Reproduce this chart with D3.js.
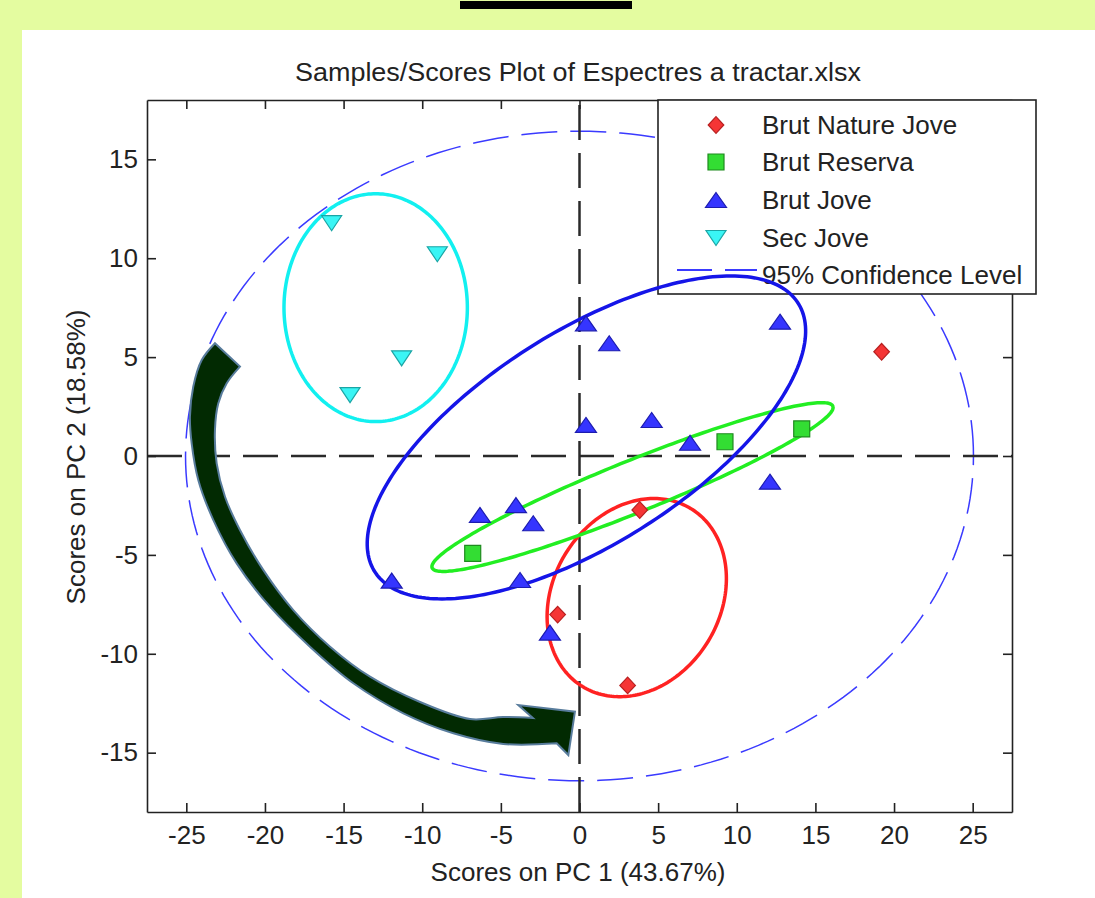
<!DOCTYPE html>
<html lang="en">
<head>
<meta charset="utf-8">
<script src="https://d3js.org/d3.v7.min.js"></script>
<style>
  body { margin: 0; background: #e4fca0; }
  text { font-family: "Liberation Sans", Arial, sans-serif; fill: #222; }
</style>
</head>
<body>
<script>
// scores on PC1 / PC2 for each class
var brutNatureJoveX = [19.21, 3.83, -1.39, 3.06];
var brutNatureJoveY = [5.27, -2.73, -8.02, -11.60];
var brutReservaX = [-6.79, 9.25, 14.13];
var brutReservaY = [-4.92, 0.72, 1.37];
var brutJoveX = [0.41, 1.89, 12.75, 0.41, 4.59, 7.03, 12.11, -6.33, -4.04, -2.94, -11.94, -3.78, -1.88];
var brutJoveY = [6.71, 5.70, 6.79, 1.57, 1.82, 0.67, -1.30, -2.98, -2.48, -3.40, -6.30, -6.27, -8.93];
var secJoveX = [-15.76, -9.04, -11.31, -14.59];
var secJoveY = [11.77, 10.20, 4.94, 3.08];

var classNames = ["Brut Nature Jove", "Brut Reserva", "Brut Jove", "Sec Jove"];

// class ellipses: centre, semi axes and tilt (degrees), in score units
var ellipseCx = [3.64, 3.37, 0.44, -12.96];
var ellipseCy = [-7.16, -1.57, 0.94, 7.50];
var ellipseA = [5.95, 13.38, 15.13, 5.83];
var ellipseB = [4.71, 1.35, 5.66, 5.76];
var ellipseAngle = [28, 17.7, 24.8, 0];

// 95% confidence ellipse
var confRx = 25.05;
var confRy = 16.42;

var xTickValues = [-25, -20, -15, -10, -5, 0, 5, 10, 15, 20, 25];
var xTickLabels = ["-25", "-20", "-15", "-10", "-5", "0", "5", "10", "15", "20", "25"];
var yTickValues = [-15, -10, -5, 0, 5, 10, 15];
var yTickLabels = ["-15", "-10", "-5", "0", "5", "10", "15"];

// hand drawn arrow, outline in score units
var arrowOuter = [[-23.18, 5.70], [-24.02, 4.85], [-24.56, 3.50], [-24.77, 1.99], [-24.66, 0.64],
  [-24.24, -1.21], [-23.28, -3.24], [-21.80, -5.43], [-19.68, -7.62], [-17.14, -9.64],
  [-14.38, -11.49], [-11.20, -13.01], [-8.02, -14.02], [-4.85, -14.56], [-1.45, -14.53]];
var arrowHead = [[-0.71, -15.12], [-0.29, -12.93], [-3.89, -12.59], [-2.96, -13.25]];
var arrowInner = [[-2.96, -13.25], [-4.85, -13.20], [-6.96, -13.30], [-10.14, -12.44], [-13.32, -11.16],
  [-15.86, -9.64], [-18.20, -7.79], [-20.11, -5.76], [-21.59, -3.74], [-22.54, -2.06],
  [-23.07, -0.37], [-23.18, 1.31], [-22.97, 2.66], [-22.43, 3.68], [-21.59, 4.52]];

var width = 1095, height = 898;
var plotLeft = 147, plotRight = 1012, plotTop = 100, plotBottom = 812;

var svg = d3.select("body").append("svg")
    .attr("width", width)
    .attr("height", height)
    .style("display", "block");

// page background
svg.append("rect").attr("width", width).attr("height", height).attr("fill", "#e4fca0");
svg.append("rect").attr("x", 22).attr("y", 30).attr("width", width - 22).attr("height", height - 30).attr("fill", "#fff");
svg.append("rect").attr("x", 460).attr("y", 1).attr("width", 172).attr("height", 8).attr("fill", "#000");

var x = d3.scaleLinear().domain([-27.5, 27.5]).range([plotLeft, plotRight]);
var y = d3.scaleLinear().domain([-18, 18]).range([plotBottom, plotTop]);

var line = d3.line().x(function(d) { return x(d[0]); }).y(function(d) { return y(d[1]); });

function ellipsePoints(cx, cy, a, b, deg) {
  var phi = deg * Math.PI / 180, pts = [];
  for (var k = 0; k <= 240; k++) {
    var t = k / 240 * 2 * Math.PI;
    pts.push([cx + a * Math.cos(t) * Math.cos(phi) - b * Math.sin(t) * Math.sin(phi),
              cy + a * Math.cos(t) * Math.sin(phi) + b * Math.sin(t) * Math.cos(phi)]);
  }
  return pts;
}

// confidence ellipse
svg.append("path")
    .attr("d", line(ellipsePoints(0, 0, confRx, confRy, 0)))
    .attr("fill", "none")
    .attr("stroke", "#3a3aff")
    .attr("stroke-width", 1.5)
    .attr("stroke-dasharray", "36,13");

// zero lines
svg.append("line")
    .attr("x1", x(-27.5)).attr("x2", x(27.5)).attr("y1", y(0)).attr("y2", y(0))
    .attr("stroke", "#2a2a2a").attr("stroke-width", 2.5).attr("stroke-dasharray", "35,13");
svg.append("line")
    .attr("x1", x(0)).attr("x2", x(0)).attr("y1", y(-18)).attr("y2", y(18))
    .attr("stroke", "#2a2a2a").attr("stroke-width", 2.5).attr("stroke-dasharray", "35,13");

// axes as a box with inward ticks
function styleAxis(g) {
  g.selectAll("path, line").attr("stroke", "#222").attr("stroke-width", 1.6);
  g.selectAll("text").attr("font-size", 26).attr("fill", "#222")
    .attr("font-family", "Liberation Sans, Arial, sans-serif");
}
svg.append("g").attr("transform", "translate(0," + plotBottom + ")")
    .call(d3.axisBottom(x).tickValues(xTickValues).tickSize(-9).tickSizeOuter(0).tickPadding(14)
      .tickFormat(function(d, i) { return xTickLabels[i]; }))
    .call(styleAxis);
svg.append("g").attr("transform", "translate(0," + plotTop + ")")
    .call(d3.axisTop(x).tickValues(xTickValues).tickSize(-9).tickSizeOuter(0).tickFormat(""))
    .call(styleAxis);
svg.append("g").attr("transform", "translate(" + plotLeft + ",0)")
    .call(d3.axisLeft(y).tickValues(yTickValues).tickSize(-9).tickSizeOuter(0).tickPadding(9)
      .tickFormat(function(d, i) { return yTickLabels[i]; }))
    .call(styleAxis);
svg.append("g").attr("transform", "translate(" + plotRight + ",0)")
    .call(d3.axisRight(y).tickValues(yTickValues).tickSize(-9).tickSizeOuter(0).tickFormat(""))
    .call(styleAxis);

// titles
svg.append("text").attr("x", 578).attr("y", 81).attr("text-anchor", "middle").attr("font-size", 26.5)
    .attr("textLength", 566).attr("lengthAdjust", "spacingAndGlyphs")
    .text("Samples/Scores Plot of Espectres a tractar.xlsx");
svg.append("text").attr("x", 578).attr("y", 881).attr("text-anchor", "middle").attr("font-size", 26)
    .text("Scores on PC 1 (43.67%)");
svg.append("text").attr("transform", "translate(85,457) rotate(-90)").attr("text-anchor", "middle")
    .attr("font-size", 26).text("Scores on PC 2 (18.58%)");

// marker shapes
var shapes = [
  "M0,-8.3L7.8,0L0,8.3L-7.8,0Z",
  "M-8,-8H8V8H-8Z",
  "M0,-7.5L10.5,7.5H-10.5Z",
  "M-10,-7.5H10L0,7.5Z"
];
var fills = ["#f53535", "#33dd33", "#3535ff", "#3af5f5"];
var edges = ["#b82020", "#1f8a1f", "#1c1cb0", "#1aa5a5"];
var ringColors = ["#ff2222", "#22ee22", "#1515e8", "#12f0f0"];

// legend (drawn under the class ellipses)
var legend = svg.append("g");
legend.append("rect").attr("x", 658).attr("y", 100).attr("width", 378).attr("height", 194)
    .attr("fill", "#fff").attr("stroke", "#222").attr("stroke-width", 1.6);
var rowY = [125, 162, 200, 238];
classNames.forEach(function(name, i) {
  legend.append("path").attr("d", shapes[i]).attr("transform", "translate(716," + rowY[i] + ")")
      .attr("fill", fills[i]).attr("stroke", edges[i]).attr("stroke-width", 1.2);
  legend.append("text").attr("x", 762).attr("y", rowY[i] + 9.3).attr("font-size", 26).text(name);
});
legend.append("line").attr("x1", 677).attr("x2", 757).attr("y1", 270).attr("y2", 270)
    .attr("stroke", "#3a3aff").attr("stroke-width", 1.8).attr("stroke-dasharray", "35,13");
legend.append("text").attr("x", 762).attr("y", 284.3).attr("font-size", 26).text("95% Confidence Level");

// class ellipses
classNames.forEach(function(name, i) {
  svg.append("path")
      .attr("d", line(ellipsePoints(ellipseCx[i], ellipseCy[i], ellipseA[i], ellipseB[i], ellipseAngle[i])))
      .attr("fill", "none")
      .attr("stroke", ringColors[i])
      .attr("stroke-width", 3.5);
});

// points
var seriesX = [brutNatureJoveX, brutReservaX, brutJoveX, secJoveX];
var seriesY = [brutNatureJoveY, brutReservaY, brutJoveY, secJoveY];
classNames.forEach(function(name, i) {
  svg.append("g").selectAll("path")
      .data(d3.zip(seriesX[i], seriesY[i]))
      .enter()
      .append("path")
      .attr("d", shapes[i])
      .attr("transform", function(d) { return "translate(" + x(d[0]) + "," + y(d[1]) + ")"; })
      .attr("fill", fills[i])
      .attr("stroke", edges[i])
      .attr("stroke-width", 1.2);
});

// arrow annotation
var smooth = d3.line().x(function(d) { return x(d[0]); }).y(function(d) { return y(d[1]); })
    .curve(d3.curveCatmullRom);
var arrowD = smooth(arrowOuter)
    + line(arrowHead).replace(/^M/, "L")
    + smooth(arrowInner).replace(/^M/, "L") + "Z";
svg.append("path")
    .attr("d", arrowD)
    .attr("fill", "#022a02")
    .attr("stroke", "#587c9c")
    .attr("stroke-width", 2)
    .attr("stroke-linejoin", "miter");
</script>
</body>
</html>
